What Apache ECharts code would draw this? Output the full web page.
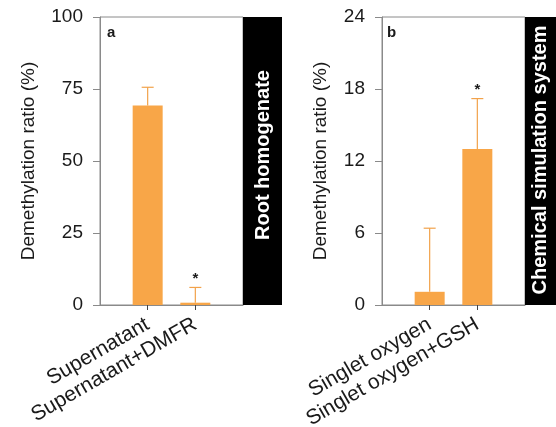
<!DOCTYPE html>
<html>
<head>
<meta charset="utf-8">
<title></title>
<script src="https://cdn.jsdelivr.net/npm/echarts@6/dist/echarts.min.js"></script>
<style>
  html, body { margin: 0; padding: 0; background: #fff; }
  #chart { width: 556px; height: 427px; }
</style>
</head>
<body>
<div id="chart"></div>
<script>
// panel a - root homogenate
var catsA = ['Supernatant', 'Supernatant+DMFR'];
var meanA = [69.3, 0.8];
var errA = [6.3, 5.3];
var sigA = ['', '*'];
var ticksA = [0, 25, 50, 75, 100];

// panel b - chemical simulation system
var catsB = ['Singlet oxygen', 'Singlet oxygen+GSH'];
var meanB = [1.1, 13.0];
var errB = [5.3, 4.2];
var sigB = ['', '*'];
var ticksB = [0, 6, 12, 18, 24];

var orange = '#F8A648';
var axisGray = '#8a8a8a';
var txt = '#1a1a1a';
var font = 'Liberation Sans';

// pad the category axis so the two bars sit at 1/3 and 2/3 of the frame
function padCats(c) { return [''].concat(c).concat(['']); }
function padVals(v) { return ['-'].concat(v).concat(['-']); }
function errData(m, e, s) {
  return m.map(function (v, i) { return [i + 1, v, v + e[i], s[i]]; });
}

function errBar(params, api) {
  var x = api.value(0);
  var lo = api.coord([x, api.value(1)]);
  var hi = api.coord([x, api.value(2)]);
  var cap = 6;
  var st = { stroke: '#F2A24A', lineWidth: 1.2 };
  var kids = [
    { type: 'line', shape: { x1: lo[0], y1: lo[1], x2: hi[0], y2: hi[1] }, style: st },
    { type: 'line', shape: { x1: hi[0] - cap, y1: hi[1], x2: hi[0] + cap, y2: hi[1] }, style: st }
  ];
  var mark = api.value(3);
  if (mark) {
    kids.push({ type: 'text', x: hi[0], y: hi[1] - 1,
      style: { text: mark, fill: txt, font: 'bold 15px ' + font, align: 'center', verticalAlign: 'bottom' } });
  }
  return { type: 'group', children: kids };
}

function xAx(idx, cats) {
  return {
    type: 'category', gridIndex: idx, data: padCats(cats), boundaryGap: false,
    axisLine: { lineStyle: { color: axisGray, width: 1 } },
    axisTick: { length: 5, lineStyle: { color: '#444' }, interval: function (i) { return i > 0 && i <= cats.length; } },
    axisLabel: { rotate: 30, margin: 18, color: txt, fontSize: 21, fontFamily: font, interval: 0 }
  };
}
function yAx(idx, t, gap) {
  return {
    type: 'value', gridIndex: idx, min: t[0], max: t[t.length - 1], interval: t[1] - t[0],
    name: 'Demethylation ratio (%)', nameLocation: 'middle', nameGap: gap,
    nameTextStyle: { color: txt, fontSize: 19, fontFamily: font },
    axisLine: { show: true, lineStyle: { color: axisGray } },
    axisTick: { show: true, length: 7, lineStyle: { color: axisGray } },
    axisLabel: { margin: 17, color: txt, fontSize: 19, fontFamily: font },
    splitLine: { show: false }
  };
}

var chart = echarts.init(document.getElementById('chart'), null, { renderer: 'canvas' });
chart.setOption({
  animation: false,
  grid: [
    { left: 100, top: 17, width: 143, height: 288, show: true, borderColor: axisGray, borderWidth: 1, outerBoundsMode: 'none' },
    { left: 382, top: 17, width: 143, height: 288, show: true, borderColor: axisGray, borderWidth: 1, outerBoundsMode: 'none' }
  ],
  xAxis: [xAx(0, catsA), xAx(1, catsB)],
  yAxis: [yAx(0, ticksA, 62), yAx(1, ticksB, 52)],
  series: [
    { type: 'bar', xAxisIndex: 0, yAxisIndex: 0, data: padVals(meanA), barWidth: 30, itemStyle: { color: orange } },
    { type: 'custom', xAxisIndex: 0, yAxisIndex: 0, data: errData(meanA, errA, sigA), renderItem: errBar, z: 3 },
    { type: 'bar', xAxisIndex: 1, yAxisIndex: 1, data: padVals(meanB), barWidth: 30, itemStyle: { color: orange } },
    { type: 'custom', xAxisIndex: 1, yAxisIndex: 1, data: errData(meanB, errB, sigB), renderItem: errBar, z: 3 }
  ],
  graphic: [
    { type: 'rect', left: 243, top: 17, shape: { width: 39, height: 288 }, style: { fill: '#000' }, z: 10 },
    { type: 'text', x: 263, y: 155, rotation: Math.PI / 2, z: 11,
      style: { text: 'Root homogenate', fill: '#fff', font: 'bold 20px ' + font, align: 'center', verticalAlign: 'middle' } },
    { type: 'rect', left: 525, top: 17, shape: { width: 40, height: 288 }, style: { fill: '#000' }, z: 10 },
    { type: 'text', x: 540, y: 160, rotation: Math.PI / 2, z: 11,
      style: { text: 'Chemical simulation system', fill: '#fff', font: 'bold 20px ' + font, align: 'center', verticalAlign: 'middle' } },
    { type: 'text', x: 107, y: 33, z: 11,
      style: { text: 'a', fill: txt, font: 'bold 15px ' + font, verticalAlign: 'middle' } },
    { type: 'text', x: 387, y: 33, z: 11,
      style: { text: 'b', fill: txt, font: 'bold 15px ' + font, verticalAlign: 'middle' } }
  ]
});
</script>
</body>
</html>
